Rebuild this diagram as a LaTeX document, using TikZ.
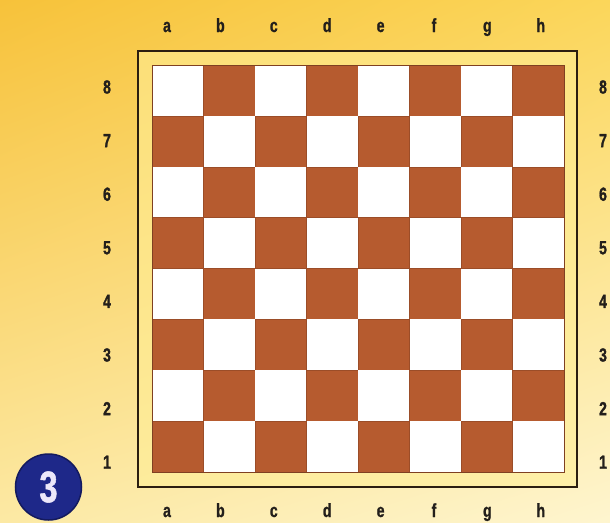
\documentclass[tikz,border=0pt]{standalone}
\usepackage{fontspec}
\usetikzlibrary{shadings}
\newfontfamily\labfont{Liberation Sans}[FakeStretch=0.74, FakeBold=1.2]
\definecolor{bgA}{HTML}{F7C23A}
\definecolor{bgB}{HTML}{FBD65A}
\definecolor{bgC}{HTML}{FCE9A4}
\definecolor{bgD}{HTML}{FEF5CF}
\definecolor{darksq}{HTML}{B65B2F}
\definecolor{lightsq}{HTML}{FFFFFF}
\definecolor{framec}{HTML}{2B1E10}
\definecolor{framefill}{HTML}{FFEE96}
\definecolor{labc}{HTML}{231F1B}
\definecolor{badge}{HTML}{1E2889}
\definecolor{badgeedge}{HTML}{141A5E}
\definecolor{badgetxt}{HTML}{ECE8FA}
\tikzset{
  lab/.style={font=\labfont\bfseries\fontsize{19}{19}\selectfont, text=labc, inner sep=0pt, anchor=center},
  filelab/.style={lab, anchor=base},
  dsq/.style={fill=darksq, draw=darksq!85!black, line width=0.5pt},
  lsq/.style={fill=lightsq},
}
\begin{document}
\begin{tikzpicture}[x=1pt,y=-1pt]
\useasboundingbox (0,0) rectangle (610,522);
\begin{scope}
\clip (0,0) rectangle (610,522);
\shade[upper left=bgA, upper right=bgB, lower left=bgC, lower right=bgD] (0,0) rectangle (610,522);
% frame
\node[draw=framec, line width=2.2pt, fill=framefill, fill opacity=0.6, draw opacity=1, minimum width=439pt, minimum height=436pt, inner sep=0pt] (frame) at (357.5,269) {};
% board
\foreach \c in {0,...,7}{
  \foreach \r in {0,...,7}{
    \pgfmathtruncatemacro{\pty}{mod(\c+\r,2)}
    \ifnum\pty=0
      \fill[lsq] (152+51.5*\c,65+50.875*\r) rectangle ++(51.5,50.875);
    \else
      \filldraw[dsq] (152+51.5*\c,65+50.875*\r) rectangle ++(51.5,50.875);
    \fi
  }
}
\node[draw=darksq!70!black, line width=0.6pt, minimum width=412pt, minimum height=407pt, inner sep=0pt] (board) at (358,268.5) {};
% file labels
\foreach \f [count=\i from 0] in {a,b,c,d,e,f,g,h}{
  \node[filelab] (top-\f) at (167+53.4*\i,32) {\f};
  \node[filelab] (bot-\f) at (167+53.4*\i,517) {\f};
}
% rank labels
\foreach \r in {1,...,8}{
  \node[lab] (left-\r) at (107,87+53.6*8-53.6*\r) {\r};
  \node[lab] (right-\r) at (603,87+53.6*8-53.6*\r) {\r};
}
% badge
\node[circle, fill=badge, draw=badgeedge, line width=1.5pt, minimum size=66pt, inner sep=0pt,
  font=\labfont\bfseries\fontsize{44}{44}\selectfont, text=badgetxt] (badge3) at (48.5,487) {3};
\end{scope}
\end{tikzpicture}
\end{document}
